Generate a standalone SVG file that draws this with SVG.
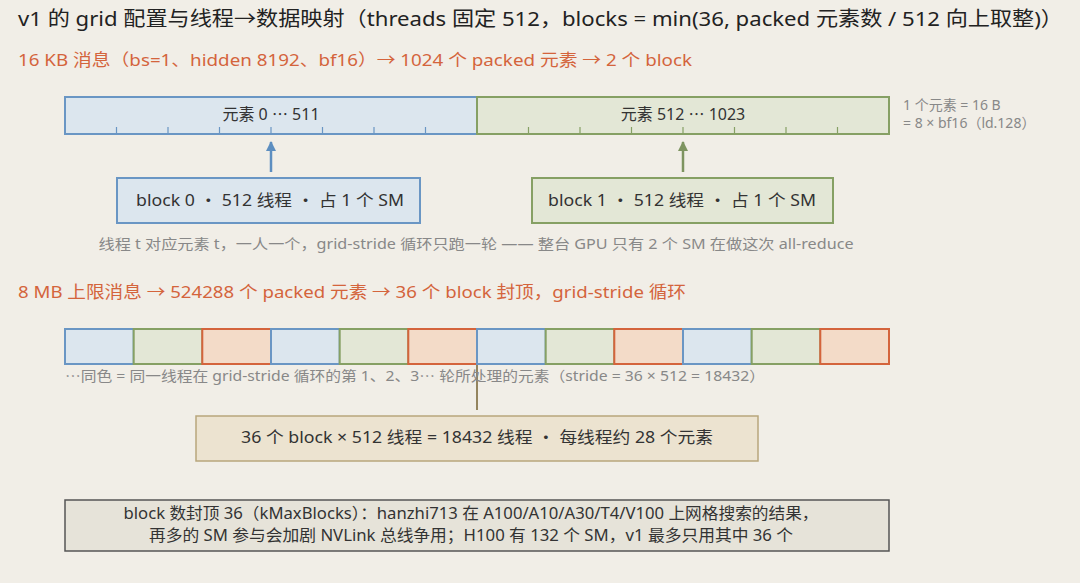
<svg xmlns="http://www.w3.org/2000/svg" width="1080" height="583" viewBox="0 0 1080 583">
<style>
text{font-family:"Noto Sans","Noto Sans CJK SC",sans-serif}
.t{fill:#222;font-size:20px}
.h{fill:#d4643c;font-size:16.5px}
.n{fill:#333;font-size:16px}
.s{fill:#888;font-size:14px}
.b{fill:#dce6ee;stroke:#6a96c4;stroke-width:2}
.g{fill:#e3e7d6;stroke:#86a064;stroke-width:2}
.o{fill:#f3dbc8;stroke:#d4643c;stroke-width:2}
</style>
<defs>
<marker id="ab" viewBox="0 0 10 10" refX="9" refY="5" markerWidth="4" markerHeight="4" orient="auto"><path d="M0,0L10,5L0,10z" fill="#5d8ec0"/></marker>
<marker id="ag" viewBox="0 0 10 10" refX="9" refY="5" markerWidth="4" markerHeight="4" orient="auto"><path d="M0,0L10,5L0,10z" fill="#7e9460"/></marker>
</defs>
<rect width="1080" height="583" fill="#f1eee7"/>
<text x="18" y="26" class="t" textLength="1045" lengthAdjust="spacingAndGlyphs">v1 的 grid 配置与线程→数据映射（threads 固定 512，blocks = min(36, packed 元素数 / 512 向上取整)）</text>
<text x="18" y="66" class="h" textLength="674" lengthAdjust="spacingAndGlyphs">16 KB 消息（bs=1、hidden 8192、bf16）→ 1024 个 packed 元素 → 2 个 block</text>
<g id="bar1">
<rect x="65" y="97" width="412" height="37" class="b"/>
<rect x="477" y="97" width="412" height="37" class="g"/>
<path d="M116.5,134v-7M168,134v-7M219.5,134v-7M271,134v-7M322.5,134v-7M374,134v-7M425.5,134v-7" stroke="#6a96c4" stroke-width="1.2"/>
<path d="M528.5,134v-7M580,134v-7M631.5,134v-7M683,134v-7M734.5,134v-7M786,134v-7M837.5,134v-7" stroke="#86a064" stroke-width="1.2"/>
<text x="271" y="120" class="n" font-size="15" text-anchor="middle">元素 0 ⋯ 511</text>
<text x="683" y="120" class="n" font-size="15" text-anchor="middle">元素 512 ⋯ 1023</text>
</g>
<text x="903" y="110" class="s" font-size="13">1 个元素 = 16 B</text>
<text x="903" y="128" class="s" font-size="13">= 8 × bf16（ld.128）</text>
<g id="conn">
<line x1="271" y1="172" x2="271" y2="142" stroke="#5d8ec0" stroke-width="2.5" marker-end="url(#ab)"/>
<line x1="683" y1="172" x2="683" y2="142" stroke="#7e9460" stroke-width="2.5" marker-end="url(#ag)"/>
<line x1="477" y1="410" x2="477" y2="352" stroke="#94845e" stroke-width="2"/>
</g>
<g id="block0"><rect x="117" y="178" width="303" height="45" class="b"/><text x="270" y="206" class="n" font-size="16" text-anchor="middle" textLength="268" lengthAdjust="spacingAndGlyphs">block 0 ・ 512 线程 ・ 占 1 个 SM</text></g>
<g id="block1"><rect x="532" y="178" width="301" height="45" class="g"/><text x="682" y="206" class="n" font-size="16" text-anchor="middle" textLength="268" lengthAdjust="spacingAndGlyphs">block 1 ・ 512 线程 ・ 占 1 个 SM</text></g>
<text x="476" y="249" class="s" text-anchor="middle" textLength="755" lengthAdjust="spacingAndGlyphs">线程 t 对应元素 t，一人一个，grid-stride 循环只跑一轮 —— 整台 GPU 只有 2 个 SM 在做这次 all-reduce</text>
<text x="18" y="298" class="h" textLength="668" lengthAdjust="spacingAndGlyphs">8 MB 上限消息 → 524288 个 packed 元素 → 36 个 block 封顶，grid-stride 循环</text>
<g id="bar2">
<rect x="65" y="329" width="68.7" height="35" class="b"/><rect x="133.7" y="329" width="68.7" height="35" class="g"/><rect x="202.3" y="329" width="68.7" height="35" class="o"/>
<rect x="271" y="329" width="68.7" height="35" class="b"/><rect x="339.7" y="329" width="68.7" height="35" class="g"/><rect x="408.3" y="329" width="68.7" height="35" class="o"/>
<rect x="477" y="329" width="68.7" height="35" class="b"/><rect x="545.7" y="329" width="68.7" height="35" class="g"/><rect x="614.3" y="329" width="68.7" height="35" class="o"/>
<rect x="683" y="329" width="68.7" height="35" class="b"/><rect x="751.7" y="329" width="68.7" height="35" class="g"/><rect x="820.3" y="329" width="68.7" height="35" class="o"/>
</g>
<text x="65" y="381" class="s" textLength="700" lengthAdjust="spacingAndGlyphs">⋯同色 = 同一线程在 grid-stride 循环的第 1、2、3⋯ 轮所处理的元素（stride = 36 × 512 = 18432）</text>
<g id="total"><rect x="196" y="416" width="562" height="45" fill="#ece3d0" stroke="#b8a67c" stroke-width="1.5"/><text x="477" y="443" class="n" text-anchor="middle" textLength="472" lengthAdjust="spacingAndGlyphs">36 个 block × 512 线程 = 18432 线程 ・ 每线程约 28 个元素</text></g>
<g id="note"><rect x="65" y="500" width="824" height="51" fill="#e6e3d9" stroke="#555" stroke-width="1.5"/>
<text x="471" y="519" class="n" font-size="14.5" text-anchor="middle" textLength="695" lengthAdjust="spacingAndGlyphs">block 数封顶 36（kMaxBlocks）：hanzhi713 在 A100/A10/A30/T4/V100 上网格搜索的结果，</text>
<text x="471" y="541" class="n" font-size="14.5" text-anchor="middle" textLength="644" lengthAdjust="spacingAndGlyphs">再多的 SM 参与会加剧 NVLink 总线争用；H100 有 132 个 SM，v1 最多只用其中 36 个</text></g>
</svg>
